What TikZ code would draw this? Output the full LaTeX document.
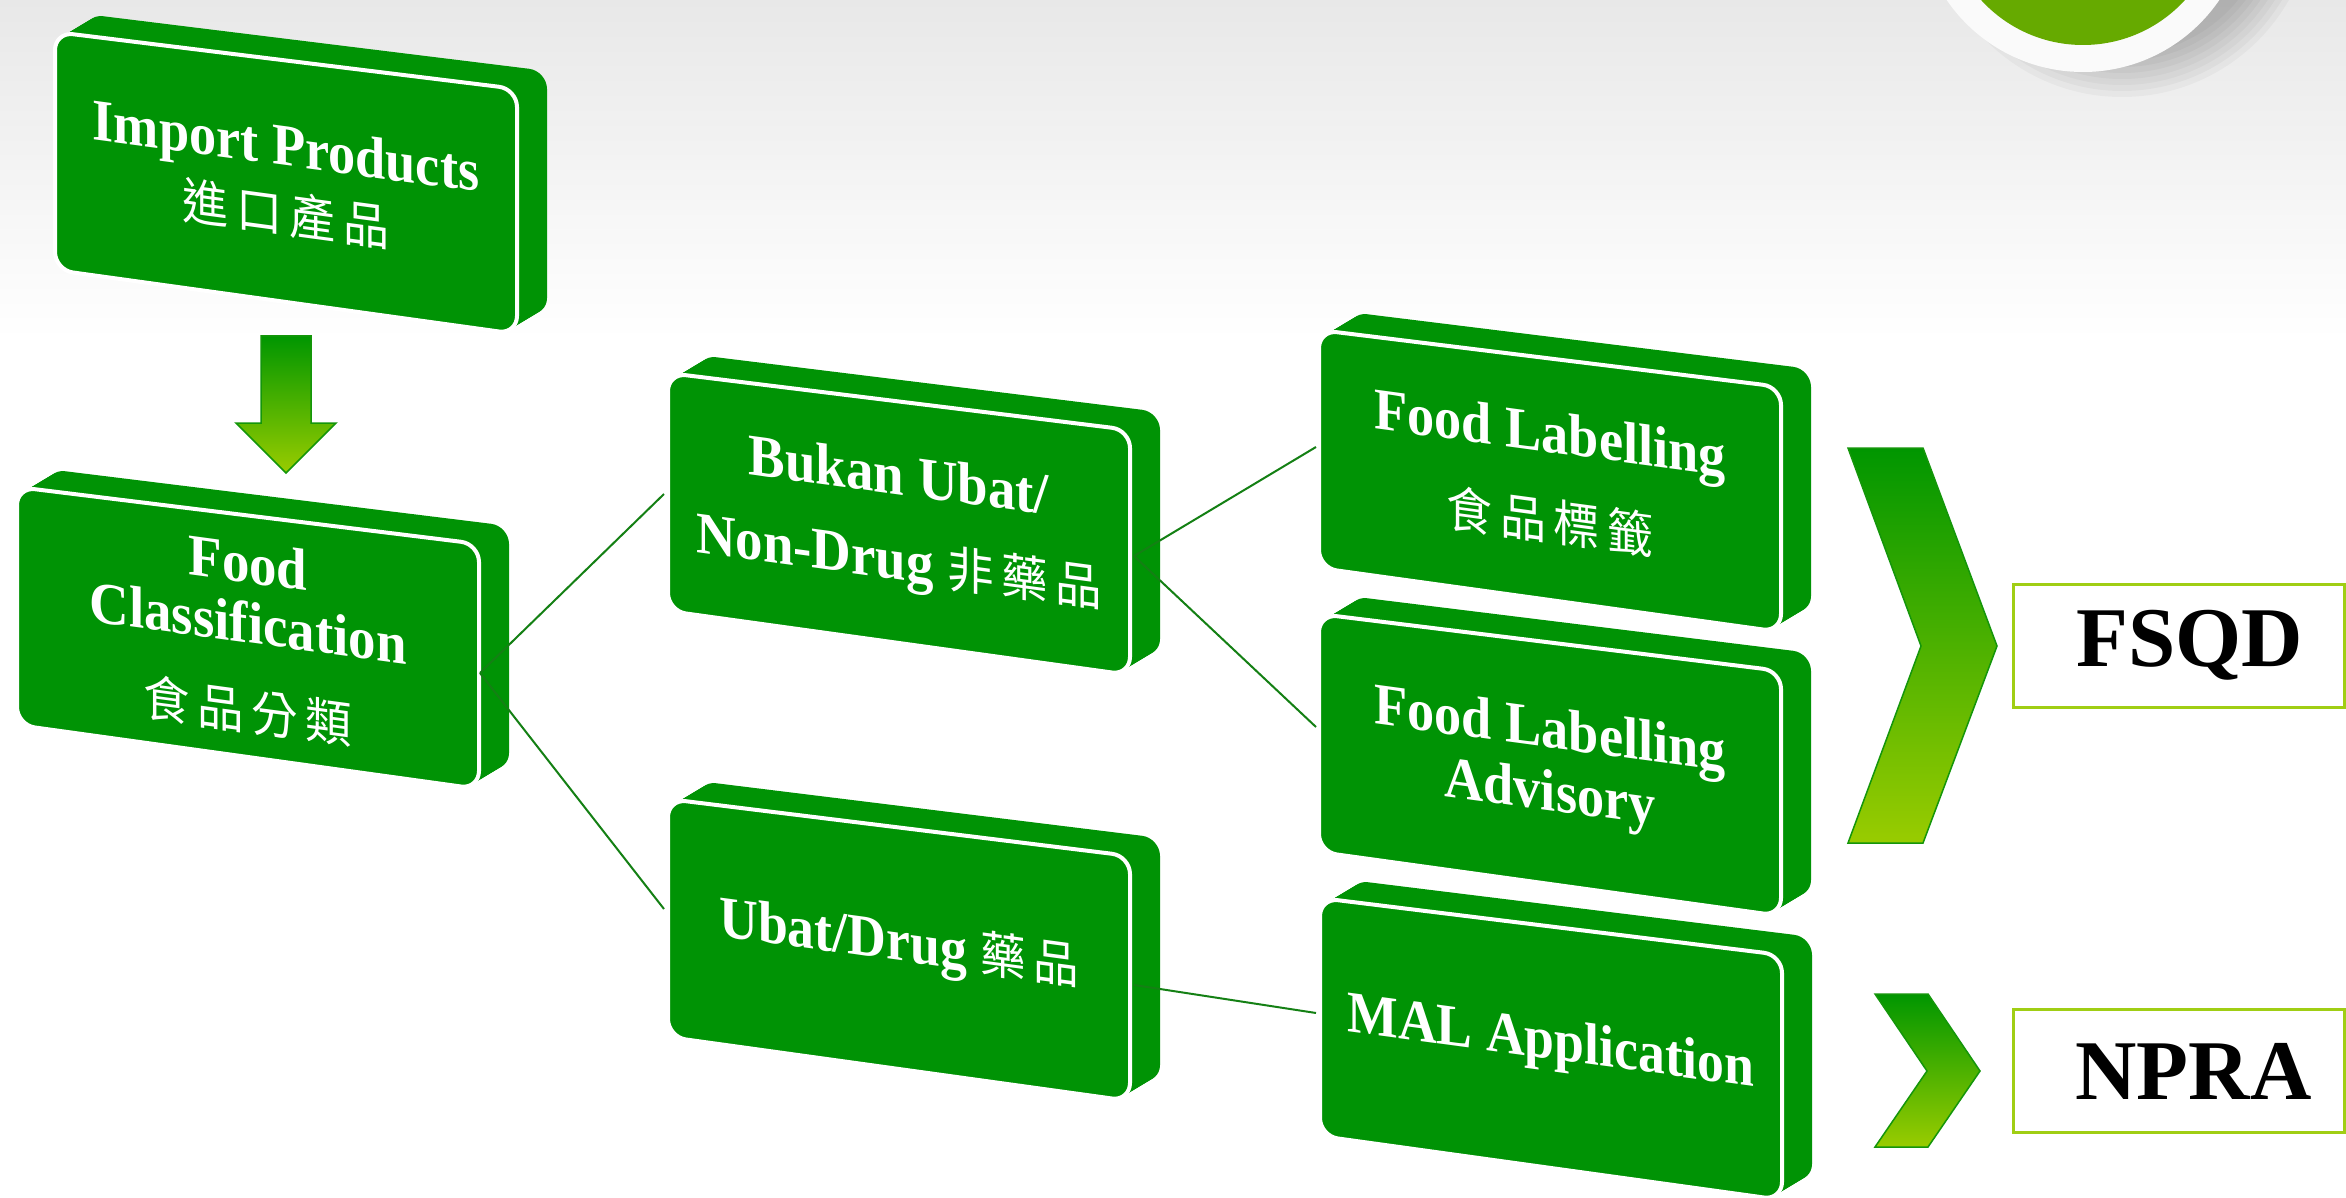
\documentclass[tikz,border=0pt]{standalone}
\usepackage{fontspec}
\setmainfont{Liberation Serif}
\newfontfamily\cjk{Noto Sans CJK TC}
\definecolor{boxgreen}{RGB}{0,147,5}
\definecolor{linegreen}{RGB}{20,128,20}
\definecolor{chevtop}{RGB}{0,150,0}
\definecolor{chevbot}{RGB}{153,204,0}
\definecolor{chevdraw}{RGB}{20,150,10}
\definecolor{labelborder}{RGB}{160,206,20}
\definecolor{circgreen}{RGB}{102,170,0}
\newcommand\zhgap{\kern8pt}
\newcommand\zh[1]{{\cjk\mdseries\fontsize{50}{60}\selectfont #1}}
\tikzset{
  boxface/.style={fill=boxgreen, draw=white, line width=4pt, rounded corners=18pt},
  boxtext/.style={text=white, font=\fontsize{59}{62}\selectfont\bfseries, align=center, transform shape, inner sep=0pt},
  conn/.style={draw=linegreen, line width=2pt},
  chev/.style={draw=chevdraw, line width=1.5pt, top color=chevtop, bottom color=chevbot},
  labelbox/.style={draw=labelborder, line width=3pt, font=\fontsize{85}{90}\selectfont\bfseries, inner sep=0pt, minimum width=331pt, minimum height=123pt}
}
\newcommand\slab[2]{%
  \foreach \t in {0,0.0625,...,1}{\fill[boxgreen, rounded corners=18pt, shift={({\t*30},{-\t*18})}] (#1,#2) -- ++(462,57) -- ++(0,245) -- ++(-462,-64) -- cycle;}%
  \draw[boxface] (#1,#2) -- ++(462,57) -- ++(0,245) -- ++(-462,-64) -- cycle;}
\newcommand\boxlabel[4]{%
  \begin{scope}[shift={#2}, yslant=-0.135]
    \node[boxtext, xscale=#3] (#1) at (0,0) {#4};
  \end{scope}}
\begin{document}
\begin{tikzpicture}[x=1pt,y=-1pt]
\useasboundingbox (0,0) rectangle (2346,1198);
\fill[white] (0,0) rectangle (2346,1198);
\shade[top color=black!9, bottom color=white] (0,0) rectangle (2346,340);
% decorative circle
\foreach \r in {150,156,...,192} \fill[black,opacity=0.03] (2122,-95) circle[radius=\r pt];
\fill[white!98!black] (2083,-93) circle[radius=165pt];
\fill[circgreen] (2083,-93) circle[radius=138pt];
% slabs
\slab{55}{32}
\slab{17}{487}
\slab{668}{373}
\slab{668}{799}
\slab{1319}{330}
\slab{1319}{614}
\slab{1320}{898}
% connector points
\coordinate (b2e) at (480,673);
\coordinate (b3w) at (664,494);
\coordinate (b4w) at (664,909);
\coordinate (b3e) at (1134,556);
\coordinate (b5w) at (1316,447);
\coordinate (b6w) at (1316,727);
\coordinate (b4e) at (1134,985);
\coordinate (b7w) at (1316,1013);
\draw[conn] (b2e) -- (b3w);
\draw[conn] (b2e) -- (b4w);
\draw[conn] (b3e) -- (b5w);
\draw[conn] (b3e) -- (b6w);
\draw[conn] (b4e) -- (b7w);
% texts
\boxlabel{b1}{(286,181)}{0.92}{Import Products\\[5pt]\zh{進\zhgap 口\zhgap 產\zhgap 品}}
\boxlabel{b2}{(248,638)}{0.93}{Food\\[-2pt]Classification\\[25pt]\zh{食\zhgap 品\zhgap 分\zhgap 類}}
\boxlabel{b3}{(899,523)}{0.93}{Bukan Ubat/\\[23pt]Non-Drug \zh{非\zhgap 藥\zhgap 品}}
\boxlabel{b4}{(899,946)}{0.91}{Ubat/Drug \zh{藥\zhgap 品}}
\boxlabel{b5}{(1550,478)}{0.92}{Food Labelling\\[26pt]\zh{食\zhgap 品\zhgap 標\zhgap 籤}}
\boxlabel{b6}{(1550,765)}{0.92}{Food Labelling\\[1pt]Advisory}
\boxlabel{b7}{(1551,1045)}{0.91}{MAL Application}
% down arrow
\path[chev] (261,336) -- (311,336) -- (311,423) -- (336,423) -- (286,473) -- (236,423) -- (261,423) -- cycle;
% chevrons
\path[chev] (1848,448) -- (1923,448) -- (1997,646) -- (1923,843) -- (1848,843) -- (1921,646) -- cycle;
\path[chev] (1875,994) -- (1928,994) -- (1980,1071) -- (1928,1147) -- (1875,1147) -- (1927,1071) -- cycle;
% label boxes
\node[labelbox] (fsqd) at (2178.5,645.5) {\hspace*{22pt}FSQD};
\node[labelbox] (npra) at (2178.5,1071) {\hspace*{30pt}NPRA};
\end{tikzpicture}
\end{document}
